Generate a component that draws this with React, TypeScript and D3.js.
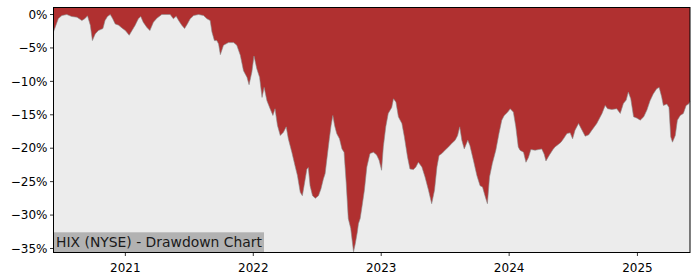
import React from "react";
import * as d3 from "d3";

const dates: string[] = [
  "2020-06-10","2020-06-17","2020-06-24","2020-07-04","2020-07-18","2020-08-01","2020-08-16","2020-08-30",
  "2020-09-08","2020-09-15","2020-09-23","2020-09-29","2020-10-07","2020-10-16","2020-10-29","2020-11-04",
  "2020-11-11","2020-11-19","2020-11-26","2020-12-03","2020-12-13","2020-12-22",
  "2021-01-01","2021-01-12","2021-01-20","2021-01-29","2021-02-07","2021-02-14","2021-02-21","2021-03-03",
  "2021-03-12","2021-03-22","2021-04-01","2021-04-15","2021-04-30","2021-05-09","2021-05-18","2021-05-26",
  "2021-06-02","2021-06-11","2021-06-19","2021-06-27","2021-07-05","2021-07-15","2021-07-29","2021-08-12",
  "2021-08-22","2021-08-31","2021-09-05","2021-09-12","2021-09-19","2021-09-24","2021-09-29","2021-10-08",
  "2021-10-22","2021-11-06","2021-11-15","2021-11-25","2021-12-04","2021-12-14","2021-12-20","2021-12-28",
  "2022-01-03","2022-01-11","2022-01-19","2022-01-26","2022-02-01","2022-02-09","2022-02-18","2022-02-26",
  "2022-03-04","2022-03-11","2022-03-19","2022-03-28","2022-04-05","2022-04-11","2022-04-21","2022-04-30",
  "2022-05-07","2022-05-15","2022-05-21","2022-05-26","2022-06-03","2022-06-07","2022-06-12","2022-06-19",
  "2022-06-27","2022-07-06","2022-07-13","2022-07-20","2022-07-25","2022-07-30","2022-08-06","2022-08-11",
  "2022-08-16","2022-08-21","2022-08-27","2022-09-04","2022-09-11","2022-09-17","2022-09-23","2022-09-29",
  "2022-10-06","2022-10-14","2022-10-19","2022-10-25","2022-10-28","2022-11-02","2022-11-07","2022-11-14",
  "2022-11-21","2022-11-30","2022-12-10","2022-12-19","2022-12-26",
  "2023-01-02","2023-01-07","2023-01-14","2023-01-21","2023-01-31","2023-02-05","2023-02-12","2023-02-19",
  "2023-03-01","2023-03-08","2023-03-17","2023-03-24","2023-04-03","2023-04-10","2023-04-17","2023-04-27",
  "2023-05-06","2023-05-16","2023-05-25","2023-06-02","2023-06-09","2023-06-15","2023-06-23","2023-07-02",
  "2023-07-12","2023-07-21","2023-07-31","2023-08-07","2023-08-13","2023-08-19","2023-08-26","2023-09-05",
  "2023-09-11","2023-09-21","2023-10-01","2023-10-10","2023-10-17","2023-10-24","2023-10-31","2023-11-06",
  "2023-11-14","2023-11-24","2023-12-03","2023-12-11","2023-12-18","2023-12-28",
  "2024-01-04","2024-01-13","2024-01-20","2024-01-27","2024-02-01","2024-02-11","2024-02-18","2024-02-25",
  "2024-03-03","2024-03-15","2024-03-25","2024-04-03","2024-04-10","2024-04-15","2024-04-25","2024-05-05",
  "2024-05-11","2024-05-21","2024-05-28","2024-06-04","2024-06-14","2024-06-23","2024-06-30","2024-07-07",
  "2024-07-17","2024-07-27","2024-08-05","2024-08-15","2024-08-24","2024-09-07","2024-09-22","2024-10-01",
  "2024-10-08","2024-10-20","2024-11-03","2024-11-13","2024-11-22","2024-11-30","2024-12-06","2024-12-13",
  "2024-12-21","2024-12-31",
  "2025-01-09","2025-01-19","2025-01-28","2025-02-06","2025-02-15","2025-02-25","2025-03-04","2025-03-11",
  "2025-03-16","2025-03-26","2025-04-01","2025-04-06","2025-04-11","2025-04-19","2025-04-25","2025-05-03",
  "2025-05-12","2025-05-20","2025-05-27","2025-05-31",
];

const drawdown: number[] = [
  -2.6,-1.6,-0.6,-0.15,0,-0.3,-0.4,-0.9,
  -0.6,-0.2,-1.6,-3.9,-2.9,-2.4,-2.1,-0.9,
  -0.3,0,-0.65,-1.4,-1.6,-2.0,
  -2.4,-3.1,-2.4,-1.6,-0.65,-0.3,-1.15,-1.9,
  -2.4,-1.15,-0.55,0,0,0,-0.65,-0.25,
  -0.9,-1.6,-2.1,-1.4,-0.65,-0.15,0,-0.15,
  -0.65,-0.9,-2.6,-3.9,-3.9,-4.4,-6.0,-4.6,
  -4.2,-4.2,-4.6,-6.1,-8.4,-9.4,-10.5,-8.6,
  -6.2,-8.1,-9.4,-12.4,-10.9,-12.9,-14.1,-15.1,
  -14.1,-16.6,-18.1,-17.6,-16.8,-18.6,-20.6,-22.6,
  -24.1,-26.6,-27.1,-25.6,-23.1,-22.9,-25.6,-27.1,
  -27.5,-27.1,-26.1,-24.6,-23.8,-21.6,-18.6,-16.6,
  -15.1,-16.6,-17.8,-18.6,-20.1,-20.6,-25.1,-30.5,
  -32.0,-35.5,-34.3,-32.5,-31.3,-30.5,-28.8,-26.3,
  -22.8,-20.8,-20.6,-21.0,-21.8,
  -23.3,-19.8,-16.8,-14.8,-13.9,-12.6,-13.1,-15.3,
  -16.3,-18.3,-21.3,-23.1,-23.2,-22.8,-22.1,-22.8,
  -24.3,-26.3,-28.3,-26.3,-22.8,-21.1,-20.8,-20.3,
  -19.8,-19.3,-18.8,-18.1,-16.8,-18.8,-20.1,-18.8,
  -19.6,-21.8,-24.1,-25.6,-25.8,-27.1,-28.3,-24.3,
  -22.3,-20.3,-17.8,-15.8,-15.1,-14.6,
  -14.1,-14.6,-16.8,-19.8,-20.3,-20.6,-22.1,-21.4,
  -20.2,-20.3,-20.2,-20.1,-20.9,-21.9,-21.0,-20.2,
  -19.8,-19.4,-19.1,-18.6,-17.8,-17.7,-18.6,-17.3,
  -16.3,-17.3,-18.2,-18.0,-17.3,-16.3,-14.8,-13.6,
  -14.1,-14.2,-14.1,-14.8,-13.3,-12.8,-11.6,-12.6,
  -15.3,-15.5,
  -15.8,-15.3,-14.3,-12.9,-11.9,-11.1,-10.9,-12.3,
  -13.6,-13.4,-13.9,-18.3,-19.1,-18.1,-15.8,-15.1,
  -14.8,-13.6,-13.4,-13.0,
];

const yTicks: number[] = [0, -5, -10, -15, -20, -25, -30, -35];
const xTickYears: number[] = [2021, 2022, 2023, 2024, 2025];
const title = "HIX (NYSE) - Drawdown Chart";

const W = 700, H = 280;
const M = { left: 53.5, right: 690, top: 7.5, bottom: 252.5 };

export default function App() {
  const parse = d3.timeParse("%Y-%m-%d");
  const data = dates.map((d, i) => ({ date: parse(d) as Date, v: drawdown[i] }));

  const x = d3.scaleTime()
    .domain(d3.extent(data, (d) => d.date) as [Date, Date])
    .range([M.left, M.right]);
  const y = d3.scaleLinear().domain([1.05, -35.6]).range([M.top, M.bottom]);

  const area = d3.area<{ date: Date; v: number }>()
    .x((d) => x(d.date))
    .y0(M.top)
    .y1((d) => y(d.v));
  const line = d3.line<{ date: Date; v: number }>()
    .x((d) => x(d.date))
    .y((d) => y(d.v));

  const font = "DejaVu Sans, sans-serif";
  const fmt = (t: number) => (t < 0 ? "\u2212" + Math.abs(t) : String(t)) + "%";

  return (
    <svg width={W} height={H} style={{ position: "absolute", left: 0, top: 0, background: "#fff" }}>
      <rect x={M.left} y={M.top} width={M.right - M.left} height={M.bottom - M.top} fill="#ececec" />
      <path d={area(data) ?? ""} fill="#b03030" />
      <path d={line(data) ?? ""} fill="none" stroke="#8a8a8a" strokeWidth={0.6} />
      <rect x={M.left} y={232.3} width={264 - M.left} height={M.bottom - 232.3} fill="#b2b2b2" />
      <text x={56} y={246.8} fontFamily={font} fontSize={13.9} fill="#1a1a1a">{title}</text>
      <rect x={M.left} y={M.top} width={M.right - M.left} height={M.bottom - M.top} fill="none" stroke="#000" strokeWidth={1} />
      {yTicks.map((t) => (
        <g key={t}>
          <line x1={M.left - 3.5} x2={M.left} y1={y(t)} y2={y(t)} stroke="#000" strokeWidth={0.8} />
          <text x={M.left - 6} y={y(t)} dy="0.35em" textAnchor="end" fontFamily={font} fontSize={12} fill="#000">{fmt(t)}</text>
        </g>
      ))}
      {xTickYears.map((yr) => {
        const px = x(new Date(yr, 0, 1));
        return (
          <g key={yr}>
            <line x1={px} x2={px} y1={M.bottom} y2={M.bottom + 3.5} stroke="#000" strokeWidth={0.8} />
            <text x={px} y={M.bottom + 19} textAnchor="middle" fontFamily={font} fontSize={12} fill="#000">{yr}</text>
          </g>
        );
      })}
    </svg>
  );
}
